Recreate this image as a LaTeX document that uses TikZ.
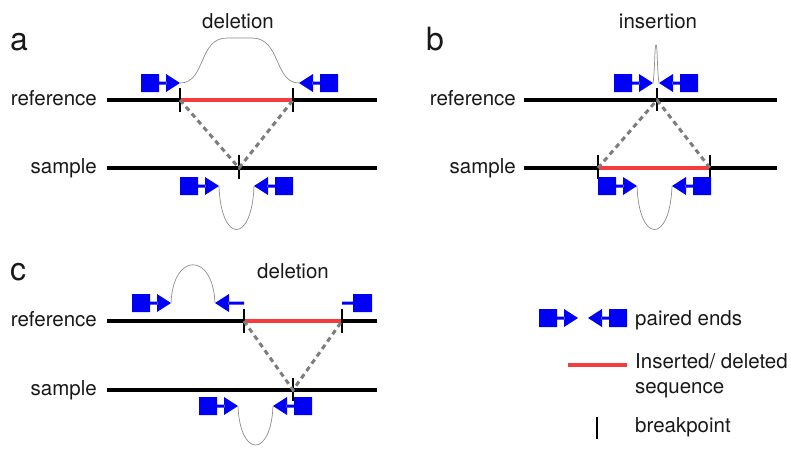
\documentclass[tikz,border=0pt]{standalone}
\usepackage{fontspec}
\setmainfont{TeX Gyre Heros}
\definecolor{readblue}{RGB}{0,0,245}
\definecolor{indelred}{RGB}{245,60,60}
\definecolor{linkgray}{RGB}{125,125,125}
\definecolor{loopgray}{RGB}{140,140,140}
\definecolor{txtcol}{RGB}{25,25,25}
\begin{document}
\begin{tikzpicture}[x=1pt,y=-1pt,
  txt/.style={font=\fontsize{20.5}{24}\selectfont, inner sep=0pt, text=txtcol},
  letter/.style={font=\fontsize{32}{36}\selectfont, inner sep=0pt, anchor=base west, text=txtcol},
  dna/.style={line width=4.5pt, draw=black},
  indel/.style={line width=4.8pt, draw=indelred},
  bp/.style={line width=2.6pt, draw=black},
  link/.style={draw=linkgray, line width=3pt, dash pattern=on 5pt off 4pt},
  loopc/.style={draw=loopgray, line width=0.7pt},
  fwdread/.pic={\fill[readblue] (-39,-9) rectangle (-21,9) (-21.5,-1.5) rectangle (-13.5,1.5) (-14,-9) -- (0,0) -- (-14,9) -- cycle;},
  revread/.pic={\fill[readblue] (39,-9) rectangle (21,9) (21.5,-1.5) rectangle (13.5,1.5) (14,-9) -- (0,0) -- (14,9) -- cycle;}
]
\useasboundingbox (0,0) rectangle (791,448);

% ---------- panel a ----------
\node[letter] (la) at (10,50) {a};
\node[txt, anchor=base] (ta) at (238,28) {deletion};
\node[txt, anchor=base east] (aref) at (97,105) {reference};
\node[txt, anchor=base east] (asam) at (97,173) {sample};
\coordinate (aRL) at (107,100); \coordinate (aRR) at (377,100);
\coordinate (aSL) at (107,168); \coordinate (aSR) at (377,168);
\coordinate (aB1) at (180,100); \coordinate (aB2) at (293,100); \coordinate (aB3) at (239,168);
\draw[dna] (aRL) -- (aRR);
\draw[dna] (aSL) -- (aSR);
\draw[indel] (aB1) -- (aB2);
\draw[bp] ([yshift=-12pt]aB1) -- ([yshift=12pt]aB1);
\draw[bp] ([yshift=-12pt]aB2) -- ([yshift=12pt]aB2);
\draw[bp] ([yshift=-11pt]aB3) -- ([yshift=13pt]aB3);
\draw[link] (aB1) -- (aB3) -- (aB2);
\pic at (180,83) {fwdread};
\pic at (299,83) {revread};
\draw[loopc] (180,83) .. controls (206,83) and (198,38) .. (227,38) -- (252,38) .. controls (281,38) and (274,83) .. (299,83);
\pic at (219,186) {fwdread};
\pic at (254,186) {revread};
\draw[loopc] (219,186) .. controls (221,244) and (252,244) .. (254,186);

% ---------- panel b ----------
\node[letter] (lb) at (426,50) {b};
\node[txt, anchor=base] (tb) at (658,28) {insertion};
\node[txt, anchor=base east] (bref) at (516,105) {reference};
\node[txt, anchor=base east] (bsam) at (516,173) {sample};
\coordinate (bRL) at (524,100); \coordinate (bRR) at (777,100);
\coordinate (bSL) at (524,168); \coordinate (bSR) at (777,168);
\coordinate (bB1) at (657,100); \coordinate (bB2) at (598,168); \coordinate (bB3) at (710,168);
\draw[dna] (bRL) -- (bRR);
\draw[dna] (bSL) -- (bSR);
\draw[indel] (bB2) -- (bB3);
\draw[bp] ([yshift=-11pt]bB1) -- ([yshift=12pt]bB1);
\draw[bp] ([yshift=-11pt]bB2) -- ([yshift=13pt]bB2);
\draw[bp] ([yshift=-11pt]bB3) -- ([yshift=13pt]bB3);
\draw[link] (bB2) -- (bB1) -- (bB3);
\pic at (653,83) {fwdread};
\pic at (659,83) {revread};
\draw[loopc] (653,83) .. controls (655,70) and (654.5,45) .. (656,45) .. controls (657.5,45) and (657,70) .. (659,83);
\pic at (637,186) {fwdread};
\pic at (672,186) {revread};
\draw[loopc] (637,186) .. controls (639,244) and (670,244) .. (672,186);

% ---------- panel c ----------
\node[letter] (lc) at (10,280) {c};
\node[txt, anchor=base] (tc) at (293,278) {deletion};
\node[txt, anchor=base east] (cref) at (97,326) {reference};
\node[txt, anchor=base east] (csam) at (97,395) {sample};
\coordinate (cRL) at (107,321); \coordinate (cRR) at (377,321);
\coordinate (cSL) at (107,390); \coordinate (cSR) at (377,390);
\coordinate (cB1) at (244,321); \coordinate (cB2) at (342,321); \coordinate (cB3) at (293,390);
\draw[dna] (cRL) -- (cRR);
\draw[dna] (cSL) -- (cSR);
\draw[indel] (cB1) -- (cB2);
\draw[bp] ([yshift=-12pt]cB1) -- ([yshift=12pt]cB1);
\draw[bp] ([yshift=-12pt]cB2) -- ([yshift=12pt]cB2);
\draw[bp] ([yshift=-11pt]cB3) -- ([yshift=12pt]cB3);
\draw[link] (cB1) -- (cB3) -- (cB2);
\pic at (171,303) {fwdread};
\fill[readblue] (215,303) -- (229,294) -- (229,312) -- cycle (228.5,301.5) rectangle (244,304.5);
\fill[readblue] (342,301.5) rectangle (353.5,304.5) (353,294) rectangle (372,312);
\draw[loopc] (171,303) .. controls (173,252) and (213,252) .. (215,303);
\pic at (238,406) {fwdread};
\pic at (273,406) {revread};
\draw[loopc] (238,406) .. controls (240,458) and (271,458) .. (273,406);

% ---------- legend ----------
\pic at (578,318) {fwdread};
\pic at (588,318) {revread};
\node[txt, anchor=base west] (lg1) at (635,325) {paired ends};
\coordinate (lr1) at (568,365); \coordinate (lr2) at (627,365);
\draw[indel] (lr1) -- (lr2);
\node[txt, anchor=base west] (lg2) at (635,368) {Inserted/ deleted};
\node[txt, anchor=base west] (lg3) at (635,393) {sequence};
\coordinate (lb1) at (597,417); \coordinate (lb2) at (597,439);
\draw[bp] (lb1) -- (lb2);
\node[txt, anchor=base west] (lg4) at (635,432) {breakpoint};
\end{tikzpicture}
\end{document}
